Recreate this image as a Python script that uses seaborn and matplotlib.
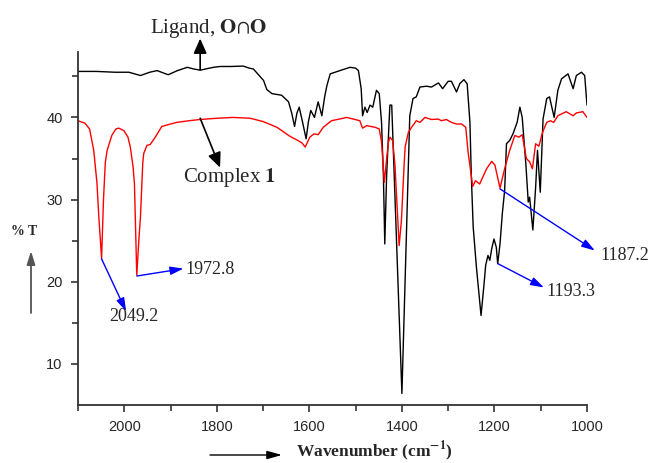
import numpy as np
import pandas as pd
import seaborn as sns
import matplotlib.pyplot as plt

# espectro del ligando (negro)
ligand_wn = [2100, 2060, 2020, 1990, 1965, 1945, 1929, 1915, 1905, 1885, 1864, 1850, 1836, 1820,
             1807, 1793, 1770, 1743, 1730, 1721, 1710, 1699, 1692, 1681, 1660, 1645, 1638, 1632,
             1627, 1622, 1615, 1607, 1602, 1597, 1589, 1581, 1573, 1567, 1562, 1555, 1534, 1512,
             1500, 1494, 1488, 1485, 1480, 1475, 1469, 1463, 1455, 1449, 1444, 1440, 1437, 1433,
             1426, 1422, 1400, 1383, 1376, 1369, 1361, 1347, 1336, 1321, 1312, 1300, 1293, 1282,
             1275, 1266, 1259, 1253, 1250, 1246, 1239, 1229, 1223, 1219, 1214, 1210, 1206, 1201,
             1196, 1193, 1188, 1183, 1178, 1174, 1167, 1160, 1151, 1145, 1140, 1132, 1127, 1124,
             1117, 1111, 1107, 1101, 1095, 1087, 1081, 1071, 1063, 1055, 1041, 1030, 1023, 1012,
             1005, 1000]
ligand_t = [45.6, 45.6, 45.5, 45.5, 45.1, 45.5, 45.7, 45.4, 45.2, 45.7, 46.1, 45.9, 45.75, 45.95,
            46.1, 46.2, 46.2, 46.25, 46.0, 45.9, 45.2, 44.5, 43.4, 42.9, 42.7, 41.9, 40.5, 38.9,
            40.5, 41.25, 39.5, 37.4, 39.5, 40.85, 40.0, 41.9, 40.2, 42.5, 43.9, 45.3, 45.7, 46.1,
            46.0, 45.7, 43.5, 40.2, 41.25, 40.6, 41.5, 41.25, 43.3, 42.9, 39.4, 32.9, 24.6, 33.0,
            41.5, 41.5, 6.4, 40.2, 42.3, 42.5, 43.7, 43.8, 43.7, 44.2, 43.5, 44.4, 44.4, 43.1,
            44.1, 44.6, 44.1, 39.4, 32.9, 26.7, 21.8, 15.9, 19.4, 22.0, 23.2, 22.6, 24.0, 25.2,
            24.2, 22.2, 24.6, 28.3, 31.1, 36.8, 37.2, 38.0, 39.4, 41.25, 40.0, 34.2, 29.7, 30.3,
            26.3, 31.5, 36.0, 30.9, 39.8, 42.3, 42.5, 40.0, 43.3, 44.7, 45.3, 43.5, 45.1, 45.5,
            45.1, 41.5]

# espectro del complejo 1 (rojo)
complex_wn = [2100, 2085, 2075, 2066, 2059, 2055, 2049, 2045, 2041, 2037, 2027, 2018, 2012, 2001,
              1992, 1987, 1981, 1978, 1973, 1968, 1965, 1960, 1958, 1951, 1944, 1933, 1919, 1900,
              1886, 1860, 1836, 1800, 1765, 1728, 1700, 1670, 1642, 1625, 1616, 1609, 1599, 1590,
              1581, 1570, 1552, 1519, 1491, 1485, 1476, 1458, 1449, 1444, 1438, 1433, 1429, 1426,
              1420, 1415, 1406, 1401, 1395, 1393, 1386, 1379, 1369, 1361, 1350, 1336, 1321, 1315,
              1304, 1293, 1282, 1271, 1262, 1257, 1247, 1241, 1232, 1217, 1206, 1199, 1188, 1178,
              1167, 1156, 1147, 1140, 1131, 1124, 1118, 1111, 1104, 1096, 1087, 1079, 1072, 1063,
              1045, 1030, 1023, 1009, 1000]
complex_t = [39.6, 39.3, 38.6, 36.0, 32.0, 27.9, 22.8, 29.9, 34.5, 36.0, 37.8, 38.6, 38.7, 38.4,
             37.6, 36.4, 34.0, 31.9, 20.8, 25.5, 27.9, 34.5, 35.6, 36.6, 36.7, 37.6, 38.9, 39.2,
             39.4, 39.6, 39.75, 39.9, 40.0, 39.9, 39.5, 38.8, 37.7, 37.2, 36.9, 36.4, 37.6, 38.0,
             37.9, 38.8, 39.6, 40.0, 39.6, 38.7, 39.0, 38.8, 38.6, 37.0, 32.1, 35.0, 37.0, 37.6,
             37.2, 34.2, 24.4, 27.5, 34.5, 36.4, 38.2, 38.8, 39.6, 39.4, 40.0, 39.75, 39.8, 39.6,
             39.75, 39.4, 39.2, 39.2, 38.8, 35.8, 31.6, 32.3, 31.9, 33.75, 34.65, 34.2, 31.4, 33.75,
             36.0, 37.8, 37.6, 37.9, 35.0, 34.6, 33.75, 36.8, 36.5, 38.2, 39.4, 39.6, 39.4, 40.2,
             40.7, 40.2, 40.55, 40.7, 40.0]

x_major = [2000, 1800, 1600, 1400, 1200, 1000]
x_minor = [2100, 1900, 1700, 1500, 1300, 1100]
y_major = [10, 20, 30, 40]
y_minor = [15, 25, 35, 45]

# picos marcados: (etiqueta, punto, punta de flecha, posicion del texto, alineacion)
peak_labels = ['2049.2', '1972.8', '1193.3', '1187.2']
peak_points = [(2049.2, 22.8), (1972.8, 20.7), (1192.5, 22.2), (1188.0, 31.3)]
peak_heads = [(1996, 16.4), (1872, 21.6), (1093, 19.3), (983, 23.8)]
peak_text = [(1980, 15.2), (1868, 20.9), (1088, 18.3), (970, 22.7)]
peak_ha = ['center', 'left', 'left', 'left']

sns.set_style('ticks')
plt.rcParams['font.family'] = ['Liberation Sans', 'DejaVu Sans']
plt.rcParams['mathtext.fontset'] = 'stix'
serif = ['Liberation Serif', 'DejaVu Serif']

fig = plt.figure(figsize=(6.54, 4.63), dpi=100)
ax = fig.add_axes([78 / 654, 1 - 405 / 463, (587 - 78) / 654, (405 - 51.7) / 463])

sns.lineplot(x=ligand_wn, y=ligand_t, color='black', lw=1, estimator=None, sort=False, ax=ax)
sns.lineplot(x=complex_wn, y=complex_t, color='red', lw=1, estimator=None, sort=False, ax=ax)

ax.set_xlim(2100, 1000)
ax.set_ylim(5, 48)
ax.set_xticks(x_major)
ax.set_xticks(x_minor, minor=True)
ax.set_yticks(y_major)
ax.set_yticks(y_minor, minor=True)
ax.set_xlabel('')
ax.set_ylabel('')
for s in ['top', 'right']:
    ax.spines[s].set_visible(False)
for s in ['left', 'bottom']:
    ax.spines[s].set_color('#333333')
    ax.spines[s].set_linewidth(1.3)
ax.tick_params(which='major', direction='out', length=5, width=1.2, color='#333333',
               labelsize=10.5, pad=6)
ax.tick_params(which='minor', direction='out', length=4, width=1.2, color='#333333')

# etiquetas de las curvas
ax.annotate('', xy=(1836, 49.6), xytext=(1836, 45.8), annotation_clip=False,
            arrowprops=dict(arrowstyle='-|>,head_length=0.9,head_width=0.4', color='black',
                            lw=1.2, shrinkA=0, shrinkB=0, mutation_scale=10))
ax.text(1817, 50.3, r'Ligand, $\mathbf{O}\!\cap\!\mathbf{O}$', ha='center', va='baseline',
        fontsize=15, family=serif, clip_on=False)
ax.annotate('', xy=(1793, 33.9), xytext=(1836, 39.9), annotation_clip=False,
            arrowprops=dict(arrowstyle='-|>,head_length=0.9,head_width=0.4', color='black',
                            lw=1.2, shrinkA=0, shrinkB=0, mutation_scale=10))
ax.text(1773, 32.2, r'Complex $\mathbf{1}$', ha='center', va='baseline',
        fontsize=15, family=serif)

# picos
for lab, p, h, t, ha in zip(peak_labels, peak_points, peak_heads, peak_text, peak_ha):
    ax.annotate('', xy=h, xytext=p, annotation_clip=False,
                arrowprops=dict(arrowstyle='-|>,head_length=0.8,head_width=0.25', color='blue',
                                lw=1, shrinkA=0, shrinkB=0, mutation_scale=10))
    ax.text(t[0], t[1], lab, ha=ha, va='baseline', fontsize=13, family=serif, clip_on=False)

# titulos de ejes con flechas
fig.text(24.5 / 654, 1 - 235 / 463, '% T', ha='center', va='baseline', fontsize=10,
         fontweight='bold', family=serif)
ax.annotate('', xy=(31, 463 - 251), xytext=(31, 463 - 313), xycoords='figure pixels',
            arrowprops=dict(arrowstyle='-|>,head_length=0.8,head_width=0.25', color='#555555',
                            lw=1.3, shrinkA=0, shrinkB=0, mutation_scale=10))
fig.text(374 / 654, 1 - 456 / 463, r'Wavenumber (cm$^{\mathbf{-1}}$)', ha='center',
         va='baseline', fontsize=12.5, fontweight='bold', family=serif)
ax.annotate('', xy=(282, 463 - 455), xytext=(210, 463 - 455), xycoords='figure pixels',
            arrowprops=dict(arrowstyle='-|>,head_length=0.9,head_width=0.25', color='black',
                            lw=1, shrinkA=0, shrinkB=0, mutation_scale=10))

fig.savefig('out.png', dpi=100)
